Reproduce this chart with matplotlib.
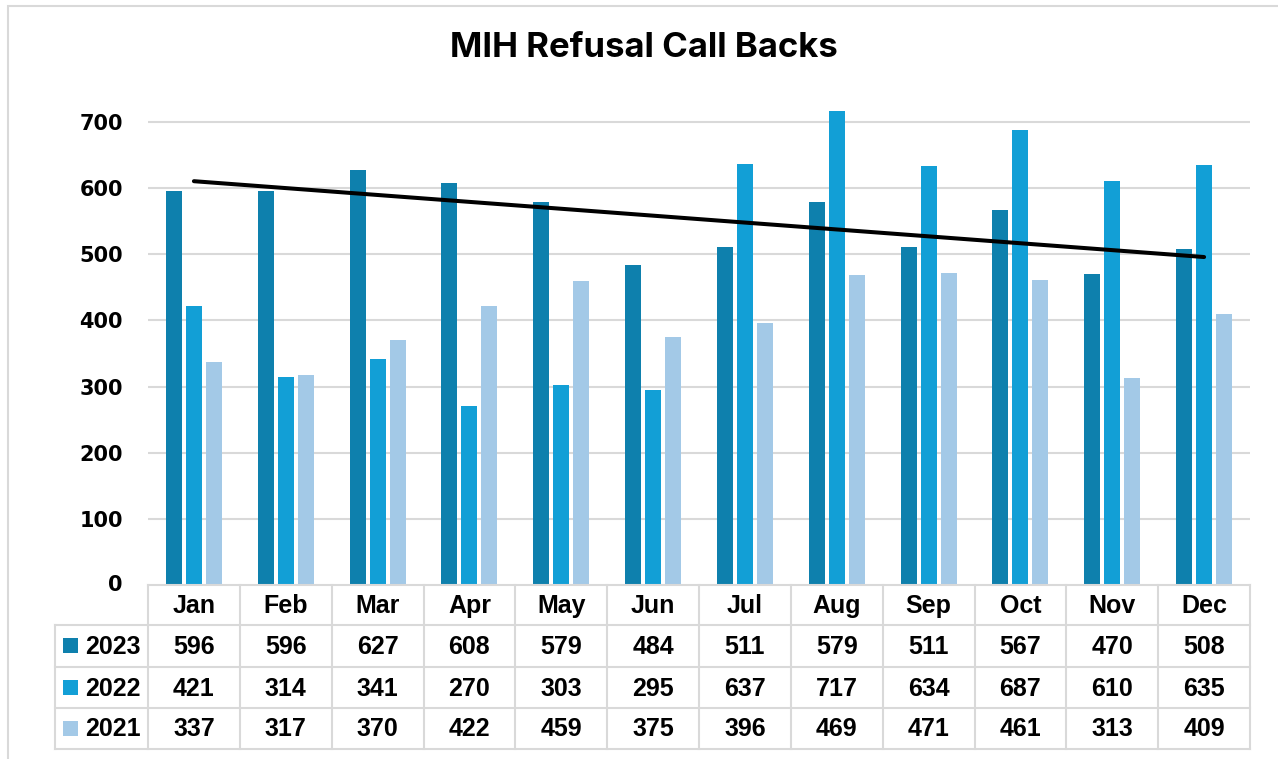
import numpy as np
import matplotlib.pyplot as plt
from matplotlib.lines import Line2D
from matplotlib.patches import Rectangle

months = ['Jan', 'Feb', 'Mar', 'Apr', 'May', 'Jun', 'Jul', 'Aug', 'Sep', 'Oct', 'Nov', 'Dec']
years = ['2023', '2022', '2021']
v2023 = [596, 596, 627, 608, 579, 484, 511, 579, 511, 567, 470, 508]
v2022 = [421, 314, 341, 270, 303, 295, 637, 717, 634, 687, 610, 635]
v2021 = [337, 317, 370, 422, 459, 375, 396, 469, 471, 461, 313, 409]
colors = ['#0E80AD', '#129FD6', '#A3C9E7']
yticks = [0, 100, 200, 300, 400, 500, 600, 700]

W, H = 1278, 759
fig = plt.figure(figsize=(W / 100, H / 100), dpi=100)
grid_c = '#D9D9D9'

# outer chart border
fig.add_artist(Rectangle((8 / W, -0.05), 1.1, 1 - 6 / H + 0.05, transform=fig.transFigure,
                         fill=False, edgecolor=grid_c, lw=1.5))

px_left, px_right, px_zero, px_top = 148, 1250, 585, 102
ymax = 730
ax = fig.add_axes([px_left / W, 1 - px_zero / H, (px_right - px_left) / W, (px_zero - px_top) / H])
x = np.arange(len(months))
series = [v2023, v2022, v2021]
bw = 0.174
step = 0.217
for i, vals in enumerate(series):
    ax.bar(x + (i - 1) * step, vals, width=bw, color=colors[i], zorder=3)

# linear trendline of 2023
coef = np.polyfit(x, v2023, 1)
ax.plot(x, np.polyval(coef, x), color='black', lw=2.9, zorder=4, solid_capstyle='round')

cw = (px_right - px_left) / len(months)
ax.set_xlim(-0.5, len(months) - 0.5)
ax.set_ylim(0, ymax)
ax.set_yticks(yticks[1:])
ax.yaxis.grid(True, color=grid_c, lw=1.5, zorder=0)
ax.set_xticks([])
ax.tick_params(axis='y', length=0, pad=18)
ax.set_yticklabels([str(t) for t in yticks[1:]], fontsize=15, fontweight='bold', family='DejaVu Sans')
for s in ax.spines.values():
    s.set_visible(False)
ax.text(-0.5 - 25 / cw, 0, '0', fontsize=15, fontweight='bold', family='DejaVu Sans',
        ha='right', va='center')

fig.text(644 / W, 1 - 48 / H, 'MIH Refusal Call Backs', ha='center', va='center',
         fontsize=25, fontweight='bold', family='Inter')

# data table
row_y = [585, 625, 667, 708, 749]
leg_left = 55


def fx(px):
    return px / W


def fy(py):
    return 1 - py / H


tf = fig.transFigure
fig.add_artist(Line2D([fx(px_left), fx(px_right)], [fy(row_y[0])] * 2, transform=tf, color=grid_c, lw=1.5))
for ry in row_y[1:]:
    fig.add_artist(Line2D([fx(leg_left), fx(px_right)], [fy(ry)] * 2, transform=tf, color=grid_c, lw=1.5))
fig.add_artist(Line2D([fx(leg_left)] * 2, [fy(row_y[1]), fy(row_y[-1])], transform=tf, color=grid_c, lw=1.5))
for j in range(len(months) + 1):
    xx = px_left + j * cw
    fig.add_artist(Line2D([fx(xx)] * 2, [fy(row_y[0]), fy(row_y[-1])], transform=tf, color=grid_c, lw=1.5))

tkw = dict(ha='center', va='center', fontsize=18, fontweight='bold', family='Liberation Sans')
for j, m in enumerate(months):
    cx = px_left + (j + 0.5) * cw
    fig.text(fx(cx), fy((row_y[0] + row_y[1]) / 2 + 1), m, **tkw)
    for i, vals in enumerate(series):
        fig.text(fx(cx), fy((row_y[i + 1] + row_y[i + 2]) / 2 + 1), str(vals[j]), **tkw)

for i, yr in enumerate(years):
    cy = (row_y[i + 1] + row_y[i + 2]) / 2
    fig.add_artist(Rectangle((fx(63), fy(cy + 7)), 15 / W, 15 / H, transform=tf,
                             facecolor=colors[i], edgecolor='none'))
    fig.text(fx(85), fy(cy + 1), yr, ha='left', va='center', fontsize=18, fontweight='bold',
             family='Liberation Sans')

fig.savefig('out.png', dpi=100)
